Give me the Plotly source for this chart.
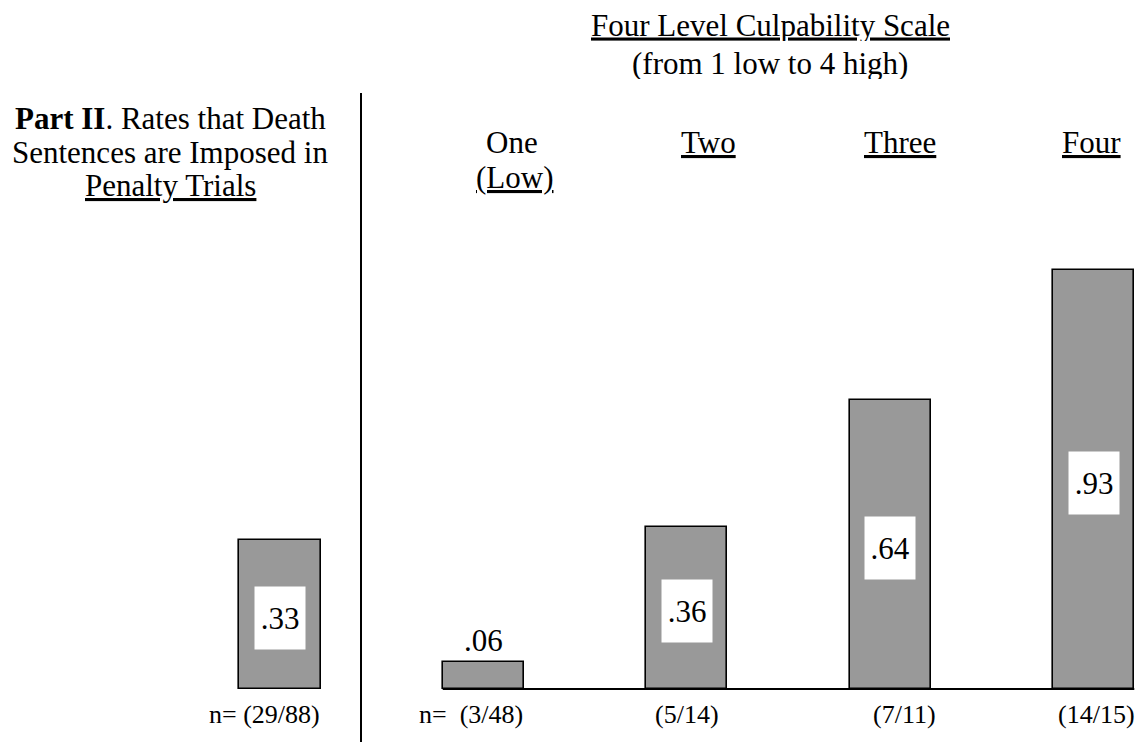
import plotly.graph_objects as go

# ---- data ----
groups = ["All", "One", "Two", "Three", "Four"]
rates = [0.33, 0.06, 0.36, 0.64, 0.93]
rate_labels = [".33", ".06", ".36", ".64", ".93"]
n_labels = ["n= (29/88)", "n=\u00a0 (3/48)", "(5/14)", "(7/11)", "(14/15)"]
level_headers = ["One", "<u>Two</u>", "<u>Three</u>", "<u>Four</u>"]
level_sub = "<u>(Low)</u>"
left_title_lines = ["<b>Part II</b>. Rates that Death", "Sentences are Imposed in", "<u>Penalty Trials</u>"]
right_title_lines = ["<u>Four Level Culpability Scale</u>", "(from 1 low to 4 high)"]

FONT = "Liberation Serif, Times New Roman, serif"
# page body has an 8px margin; figure is sized so it fills the 1144x742 window
OFF = 8
W, H = 1144 - OFF, 742 - OFF


def px(sx):
    return (sx - OFF) / W


def py(sy):
    return 1 - (sy - OFF) / H


fig = go.Figure()
fig.add_trace(go.Bar(
    x=groups, y=rates, width=0.4,
    marker=dict(color="#999999", line=dict(color="black", width=1.6)),
    hoverinfo="skip", showlegend=False,
))

annotations = []
# value labels
for g, v, lab in zip(groups, rates, rate_labels):
    if v < 0.1:
        annotations.append(dict(x=g, y=v, text=lab, showarrow=False, yanchor="middle",
                                yshift=21, font=dict(size=31, color="black", family=FONT)))
    else:
        annotations.append(dict(x=g, y=v / 2, text=lab, showarrow=False, yanchor="middle",
                                yshift=-3.5, width=50, height=62, bgcolor="white", borderpad=0,
                                font=dict(size=31, color="black", family=FONT)))

# n labels under bars
n_shift = [-16, -12, 0, 14, 3]
for g, lab, dx in zip(groups, n_labels, n_shift):
    annotations.append(dict(x=g, y=0, text=lab, showarrow=False, yanchor="middle",
                            yshift=-25, xshift=dx, borderpad=0,
                            font=dict(size=26, color="black", family=FONT)))

# level headers
hdr_x = [512, 708, 900, 1091]
for lab, sx in zip(level_headers, hdr_x):
    annotations.append(dict(x=px(sx), y=py(142), xref="paper", yref="paper", text=lab,
                            showarrow=False, yanchor="middle", xanchor="center",
                            font=dict(size=31, color="black", family=FONT)))
annotations.append(dict(x=px(514), y=py(178), xref="paper", yref="paper", text=level_sub,
                        showarrow=False, yanchor="middle", xanchor="center",
                        font=dict(size=31, color="black", family=FONT)))

# titles
for lab, sy in zip(right_title_lines, [25, 63]):
    annotations.append(dict(x=px(770), y=py(sy), xref="paper", yref="paper", text=lab,
                            showarrow=False, yanchor="middle", xanchor="center",
                            height=32, borderpad=0,
                            font=dict(size=31, color="black", family=FONT)))
for lab, sy in zip(left_title_lines, [119, 152, 185]):
    annotations.append(dict(x=px(170), y=py(sy), xref="paper", yref="paper", text=lab,
                            showarrow=False, yanchor="middle", xanchor="center",
                            font=dict(size=31, color="black", family=FONT)))

shapes = [
    # divider
    dict(type="line", xref="paper", yref="paper", x0=px(361), x1=px(361),
         y0=0, y1=py(93), line=dict(color="black", width=2)),
    # baseline of right panel
    dict(type="line", xref="x", yref="y", x0=0.8, x1=4.2, y0=0, y1=0,
         line=dict(color="black", width=2)),
]

fig.update_layout(
    width=W, height=H,
    margin=dict(l=0, r=0, t=0, b=0),
    paper_bgcolor="white", plot_bgcolor="white",
    xaxis=dict(type="category", categoryorder="array", categoryarray=groups,
               range=[-(280 - OFF) / 203.4, (1144 - 280) / 203.4], visible=False, fixedrange=True),
    yaxis=dict(range=[-(742 - 689) / 451, (689 - OFF) / 451], visible=False, fixedrange=True),
    annotations=annotations, shapes=shapes,
    bargap=0,
)

fig.write_html("out.html")
